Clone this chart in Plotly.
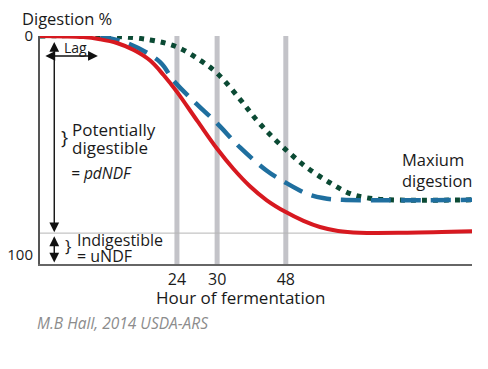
import plotly.graph_objects as go

# ---- data (schematic axis positions; 0-100 position units along x) ----
tick_positions = [31.7, 41.0, 56.9]
tick_labels = ["24", "30", "48"]

y_tick_vals = [0, 100]
y_tick_labels = ["0", "100"]

indigestible_level = 90

red_x = [0, 10, 13.9, 17.8, 21.7, 25.5, 28.6, 31.7, 36.5, 41.0, 44.7, 48.6, 52.5, 56.9, 61.0, 64.8, 69.0, 74.0, 85.0, 100]
red_y = [0, 0.5, 1.5, 3.2, 6.4, 11.2, 17.8, 25.5, 39.0, 51.5, 60.5, 68.6, 75.0, 80.4, 84.4, 87.2, 89.0, 89.8, 89.8, 89.2]

blue_x = [0, 12.3, 20.1, 27.8, 30.8, 35.4, 41.0, 46.3, 52.5, 56.9, 61.8, 65.5, 70.0, 100]
blue_y = [0, 0, 3.2, 11.9, 20.1, 29.4, 39.9, 50.9, 61.5, 67.0, 72.0, 74.0, 74.8, 74.8]

green_x = [0, 16.2, 25.5, 31.7, 37.0, 41.0, 46.3, 50.2, 53.9, 57.9, 61.8, 67.1, 71.8, 75.7, 81.0, 100]
green_y = [0, 0, 1.8, 5.0, 11.0, 17.0, 28.9, 38.5, 46.3, 53.7, 60.1, 67.0, 72.0, 73.9, 74.8, 74.8]

FONT = "Open Sans"
YMAX = 104.1

fig = go.Figure()
fig.add_trace(go.Scatter(x=green_x, y=green_y, mode="lines",
                         line=dict(color="#0b4a34", width=5, dash="5px,6px", shape="spline"),
                         hoverinfo="skip", showlegend=False))
fig.add_trace(go.Scatter(x=blue_x, y=blue_y, mode="lines",
                         line=dict(color="#1f6f9f", width=4.5, dash="20px,10px", shape="spline"),
                         hoverinfo="skip", showlegend=False))
fig.add_trace(go.Scatter(x=red_x, y=red_y, mode="lines",
                         line=dict(color="#d71920", width=4, shape="spline"),
                         hoverinfo="skip", showlegend=False))

shapes = []
for tp in tick_positions:
    shapes.append(dict(type="line", xref="x", yref="y", x0=tp, x1=tp, y0=0, y1=YMAX,
                       line=dict(color="rgba(185,185,190,0.85)", width=5), layer="below"))
shapes.append(dict(type="line", xref="x", yref="y", x0=0, x1=100,
                   y0=indigestible_level, y1=indigestible_level,
                   line=dict(color="#b5b5b5", width=1), layer="below"))

ann = []
def txt(x, y, s, size=17, xanchor="left", color="#1a1a1a", italic=False, ref="x"):
    ann.append(dict(x=x, y=y, xref=ref, yref=("y" if ref == "x" else "paper"), text=s,
                    showarrow=False, xanchor=xanchor, yanchor="middle",
                    font=dict(family=FONT, size=size, color=color,
                              style="italic" if italic else "normal")))

def arrow(x0, y0, x1, y1):
    ann.append(dict(x=x1, y=y1, ax=x0, ay=y0, xref="x", yref="y", axref="x", ayref="y",
                    text="", showarrow=True, arrowhead=2, startarrowhead=2,
                    arrowside="end+start", arrowsize=1.4, startarrowsize=1.4,
                    arrowwidth=1.4, arrowcolor="#111"))

# arrows
arrow(3.3, 2.0, 3.3, 89.6)
arrow(3.3, 90.8, 3.3, 103.4)
arrow(0.9, 9.1, 13.4, 9.1)

txt(-0.0463, 1.075, "Digestion %", size=16.5, ref="paper")
txt(5.0, 5.2, "Lag", size=14)
txt(5.67, 46.1, "}", size=19, xanchor="center")
txt(7.0, 42.9, "Potentially", size=17)
txt(7.0, 50.7, "digestible", size=17)
txt(6.7, 62.6, "= pdNDF", size=15.5, italic=True)
txt(6.4, 95.5, "}", size=17, xanchor="center")
txt(8.2, 93.0, "Indigestible", size=16)
txt(8.2, 100.6, "= uNDF", size=16)
txt(83.4, 56.6, "Maxium", size=16.5)
txt(83.4, 65.8, "digestion", size=16.5)
txt(0.463, -0.145, "Hour of fermentation", size=17, xanchor="center", ref="paper")
txt(-0.0116, -0.259, "M.B Hall, 2014 USDA-ARS", size=15.5, color="#8c8c8c",
    italic=True, ref="paper")

# page body has an 8px default margin, so the figure is sized/offset to compensate
fig.update_layout(
    width=480, height=361,
    margin=dict(l=32, r=16, t=28, b=105, autoexpand=False),
    paper_bgcolor="white", plot_bgcolor="white",
    shapes=shapes, annotations=ann,
    font=dict(family=FONT, size=15, color="#1a1a1a"),
    xaxis=dict(range=[0, 100], showgrid=False, zeroline=False, automargin=False,
               showline=True, linecolor="#666", linewidth=2,
               tickvals=tick_positions, ticktext=tick_labels, ticks="",
               tickfont=dict(size=16, color="#1a1a1a")),
    yaxis=dict(range=[YMAX, 0], showgrid=False, zeroline=False, automargin=False,
               showline=True, linecolor="#555", linewidth=2,
               tickvals=y_tick_vals, ticktext=y_tick_labels, ticks="",
               ticklabelstandoff=2,
               tickfont=dict(size=15, color="#1a1a1a")),
)

fig.write_html("out.html")
